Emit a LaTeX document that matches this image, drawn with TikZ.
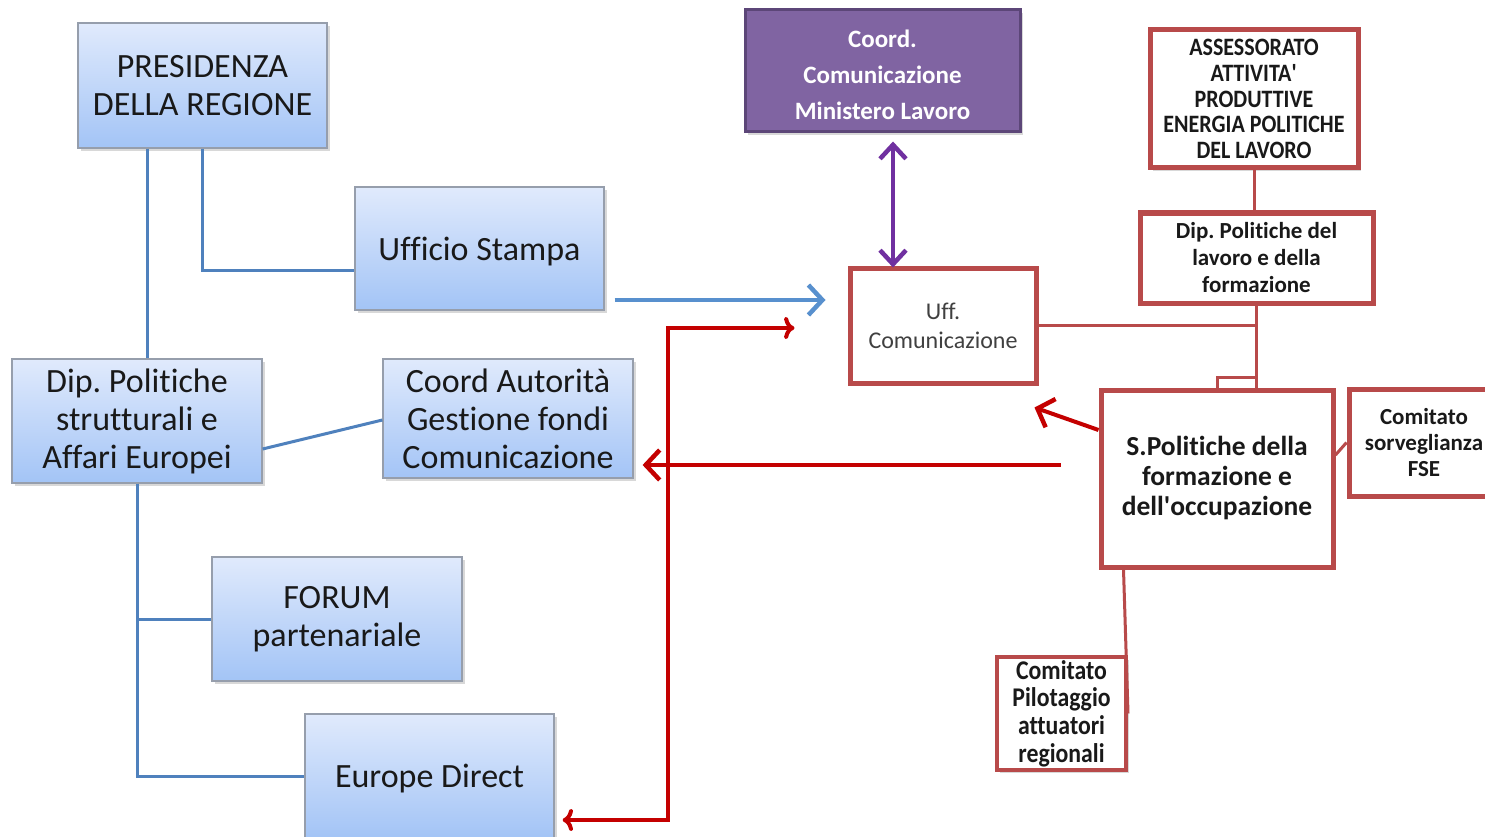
\documentclass[tikz,border=0pt]{standalone}
\usepackage{fontspec}
\setmainfont[Ligatures=NoCommon]{Carlito}
\newfontfamily\narrowfont[FakeStretch=0.88, Ligatures=NoCommon]{Carlito}
\usepackage{tikz}
\usetikzlibrary{arrows.meta, shadows, positioning}
\frenchspacing

\definecolor{blutop}{RGB}{224,234,252}
\definecolor{blubot}{RGB}{163,196,246}
\definecolor{bluborder}{RGB}{150,158,172}
\definecolor{bluline}{RGB}{79,129,189}
\definecolor{bluarrow}{RGB}{88,144,206}
\definecolor{redborder}{RGB}{184,74,74}
\definecolor{redarrow}{RGB}{196,0,0}
\definecolor{purfill}{RGB}{128,100,162}
\definecolor{purborder}{RGB}{92,70,120}
\definecolor{purarrow}{RGB}{112,48,160}

\begin{document}
\begin{tikzpicture}[x=1pt, y=-1pt,
      blubox/.style={rectangle, draw=bluborder, line width=1.2pt,
                     top color=blutop, bottom color=blubot,
                     drop shadow={shadow xshift=3pt, shadow yshift=-3pt, opacity=0.3},
                     inner sep=0pt, align=center, text=black!90,
                     font=\fontsize{34}{38}\selectfont},
      redbox/.style={rectangle, draw=redborder, line width=5pt, fill=white,
                     drop shadow={shadow xshift=3pt, shadow yshift=-3pt, opacity=0.3},
                     inner sep=0pt, align=center, text=black!90},
      purbox/.style={rectangle, draw=purborder, line width=3pt, fill=purfill,
                     drop shadow={shadow xshift=3pt, shadow yshift=-3pt, opacity=0.3},
                     inner sep=0pt, align=center, text=white,
                     font=\bfseries\fontsize{25}{36}\selectfont},
      blulink/.style={draw=bluline, line width=3pt},
      redlink/.style={draw=redborder, line width=3pt},
      bluarr/.style={draw=bluarrow, line width=3.5pt, -{Straight Barb[length=14pt, width=30pt, line width=4.5pt]}},
      redarr/.style={draw=redarrow, line width=4pt, -{Straight Barb[length=14pt, width=30pt, line width=4.5pt]}},
      purarr/.style={draw=purarrow, line width=3.5pt, {Straight Barb[length=14pt, width=26pt, line width=4.5pt]}-{Straight Barb[length=14pt, width=26pt, line width=4.5pt]}}
    ]
    \useasboundingbox[fill=white] (0,0) rectangle (1485,837);

    % regione
    \node[blubox, minimum width=249pt, minimum height=125pt] (pres) at (202.5,85.5) {PRESIDENZA\\DELLA REGIONE};
    \node[blubox, minimum width=249pt, minimum height=123pt] (stampa) at (479.5,248.5) {\raisebox{-3pt}[\height][\depth]{Ufficio Stampa}};
    \node[blubox, minimum width=250pt, minimum height=124pt] (dipstr) at (137,421) {Dip. Politiche\\strutturali e\\Affari Europei};
    \node[blubox, minimum width=250pt, minimum height=119pt] (autgest) at (508,418.5) {Coord Autorità\\Gestione fondi\\Comunicazione};
    \node[blubox, minimum width=250pt, minimum height=124pt] (forum) at (337,619) {FORUM\\partenariale};
    \node[blubox, minimum width=249pt, minimum height=124pt] (europe) at (429.5,776) {\raisebox{-3pt}[\height][\depth]{Europe Direct}};

    % ministero e assessorato
    \node[purbox, minimum width=275pt, minimum height=122pt] (coord) at (882.5,71) {\rule{0pt}{25pt}Coord.\\Comunicazione\\Ministero Lavoro};
    \node[redbox, minimum width=208pt, minimum height=138pt, font=\bfseries\narrowfont\fontsize{25}{25.75}\selectfont] (assess) at (1254,99) {ASSESSORATO\\ATTIVITA\textquotesingle\\PRODUTTIVE\\ENERGIA POLITICHE\\DEL LAVORO};
    \node[redbox, minimum width=233pt, minimum height=90pt, font=\bfseries\fontsize{23}{27}\selectfont] (diplav) at (1256.5,258) {Dip. Politiche del\\lavoro e della\\formazione};
    \node[redbox, minimum width=186pt, minimum height=115pt, text=black!75, font=\fontsize{24}{29}\selectfont] (uff) at (943,325.5) {Uff.\\Comunicazione};
    \node[redbox, minimum width=232pt, minimum height=177pt, font=\bfseries\fontsize{27.5}{30}\selectfont] (spol) at (1217,478.5) {S.Politiche della\\formazione e\\dell\textquotesingle occupazione};
    \node[redbox, minimum width=150pt, minimum height=107pt, font=\bfseries\fontsize{23}{26}\selectfont] (sorv) at (1424,442.5) {Comitato\\sorveglianza\\FSE};
    \node[redbox, line width=4pt, minimum width=129pt, minimum height=113pt, font=\bfseries\narrowfont\fontsize{27}{27.7}\selectfont] (pilot) at (1061.5,713.5) {Comitato\\Pilotaggio\\attuatori\\regionali};

    \coordinate (redbus) at (668,328);

    % collegamenti regione
    \draw[blulink] ([xshift=70pt]pres.south west) -- ([xshift=70pt]pres.south west |- dipstr.north);
    \draw[blulink] (pres.south) |- ([yshift=-21.5pt]stampa.west);
    \draw[blulink] ([yshift=-28pt]dipstr.east) -- ([yshift=-1.5pt]autgest.west);
    \draw[blulink] (dipstr.south) |- (europe.west);
    \draw[blulink] (dipstr.south |- forum.west) -- (forum.west);
    \draw[bluarr] ([shift={(10pt,-51.5pt)}]stampa.east) -- ([shift={(-22pt,25.5pt)}]uff.west);

    % collegamenti assessorato
    \draw[redlink] (assess.south) -- (assess.south |- diplav.north);
    \draw[redlink] (diplav.south) -- (diplav.south |- spol.north);
    \draw[redlink] ([yshift=10pt]diplav.south |- spol.north) -| (spol.north);
    \draw[redlink] (uff.east) -- (uff.east -| diplav.south);
    \draw[redlink] ([yshift=23.5pt]spol.east) -- (sorv.west);
    \draw[redlink] ([xshift=25pt]spol.south west) -- (pilot.east);

    % frecce
    \draw[purarr] ([shift={(10.5pt,-8pt)}]coord.south) -- ([shift={(-50pt,-2pt)}]uff.north);
    \draw[redarr] ([shift={(-38pt,13.5pt)}]spol.west) -- ([shift={(9pt,-46.5pt)}]autgest.east);
    \draw[redarr] ([yshift=48.5pt]spol.west) -- ([shift={(-4pt,-22pt)}]uff.south east);
    \draw[redarr, <->] ([shift={(8pt,-44pt)}]europe.east) -| (redbus) -- ([shift={(-53pt,-2.5pt)}]uff.west);
  \end{tikzpicture}
\end{document}
